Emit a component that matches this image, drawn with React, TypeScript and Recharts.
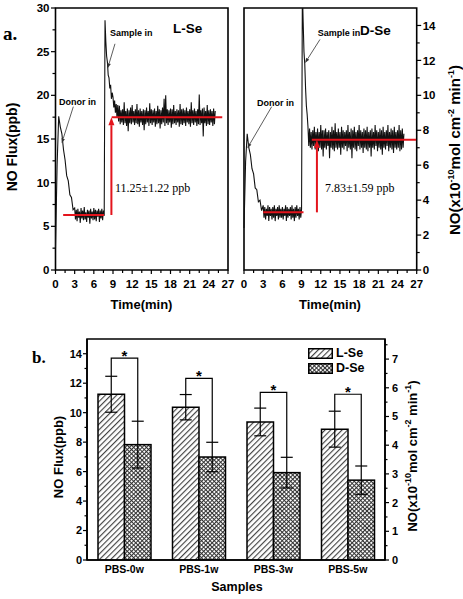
import React from 'react';
import {
  LineChart, Line, XAxis, YAxis, ReferenceLine, ReferenceArea,
  BarChart, Bar, ErrorBar, Legend,
} from 'recharts';

const SANS = '"Liberation Sans", Arial, sans-serif';
const SERIF = '"Liberation Serif", "Times New Roman", serif';
const RED = '#e3141c';

// ---------- Panel a: time traces ----------
const timeMin = [0,0.25,0.5,0.75,1,1.25,1.5,1.75,2,2.25,2.5,2.75,3,
  3.125,3.25,3.375,3.5,3.625,3.75,3.875,4,
  4.125,4.25,4.375,4.5,4.625,4.75,4.875,5,
  5.125,5.25,5.375,5.5,5.625,5.75,5.875,6,
  6.125,6.25,6.375,6.5,6.625,6.75,6.875,7,
  7.125,7.25,7.375,7.5,7.625,7.75,7.875,8,
  8.125,8.25,8.375,8.5,8.625,8.75,8.875,9,
  9.125,9.25,9.375,9.5,9.625,9.75,9.875,10,
  10.125,10.25,10.375,10.5,10.625,10.75,10.875,11,
  11.125,11.25,11.375,11.5,11.625,11.75,11.875,12,
  12.125,12.25,12.375,12.5,12.625,12.75,12.875,13,
  13.125,13.25,13.375,13.5,13.625,13.75,13.875,14,
  14.125,14.25,14.375,14.5,14.625,14.75,14.875,15,
  15.125,15.25,15.375,15.5,15.625,15.75,15.875,16,
  16.125,16.25,16.375,16.5,16.625,16.75,16.875,17,
  17.125,17.25,17.375,17.5,17.625,17.75,17.875,18,
  18.125,18.25,18.375,18.5,18.625,18.75,18.875,19,
  19.125,19.25,19.375,19.5,19.625,19.75,19.875,20,
  20.125,20.25,20.375,20.5,20.625,20.75,20.875,21,
  21.125,21.25,21.375,21.5,21.625,21.75,21.875,22,
  22.125,22.25,22.375,22.5,22.625,22.75,22.875,23,
  23.125,23.25,23.375,23.5,23.625,23.75,23.875,24,
  24.125,24.25,24.375,24.5,24.625,24.75,24.875,25];

const lseFlux = [2.5,12.0,17.6,16.4,15.6,13.8,12.6,10.8,10.2,8.6,8.3,6.9,7.1,
  5.8,6.9,5.6,7.0,6.0,6.7,5.4,7.1,
  5.9,6.8,5.7,7.2,5.8,6.6,5.5,6.9,
  6.0,6.8,5.3,7.0,5.9,6.7,5.7,7.1,
  5.8,6.9,5.6,6.8,6.1,7.0,5.5,6.8,
  5.9,7.0,5.7,6.8,6.2,28.6,26.2,24.5,
  23.8,22.3,22.0,20.8,21.2,19.6,20.3,19.8,
  18.6,19.4,18.0,19.0,17.4,18.9,17.0,18.8,
  16.7,18.3,16.9,18.4,16.6,19.2,16.8,18.2,
  16.5,18.5,15.9,18.3,16.8,18.6,16.7,18.9,
  16.9,18.2,16.6,18.4,16.8,19.0,16.7,18.3,
  16.4,18.5,16.9,18.2,16.6,18.4,16.0,18.3,
  16.7,18.6,16.9,18.2,16.5,19.1,16.8,18.4,
  16.6,18.3,16.9,18.5,16.4,18.2,16.7,18.8,
  16.8,18.4,16.2,18.3,16.7,18.6,16.9,19.6,
  16.5,20.0,16.8,18.4,16.6,18.3,16.9,18.5,
  16.3,18.4,16.7,18.9,16.8,18.2,16.6,18.4,
  16.9,18.3,16.4,19.0,16.7,18.4,16.6,18.5,
  16.8,18.3,16.5,18.6,16.9,18.2,16.7,18.4,
  16.4,19.2,16.8,18.3,16.6,18.5,16.9,18.2,
  16.5,18.4,16.7,20.1,16.6,18.3,16.8,18.5,
  15.3,18.6,16.8,18.2,16.5,18.9,16.7,18.3,
  16.6,18.4,16.9,18.2,16.5,18.5,16.7,18.2];

const dseFlux = [2.4,6.2,7.8,7.0,6.6,5.8,5.5,4.7,4.6,3.9,4.0,3.4,3.7,
  3.0,3.6,2.9,3.5,3.1,3.7,2.8,3.6,
  3.1,3.5,2.9,3.6,3.0,3.7,2.8,3.5,
  3.1,3.6,2.9,3.7,3.0,3.5,3.0,3.6,
  2.9,3.5,3.1,3.7,2.8,3.6,3.0,3.5,
  3.1,3.6,2.9,3.7,3.0,3.5,2.8,3.6,
  3.0,3.7,3.1,3.5,2.9,3.6,3.0,3.5,
  16.0,14.2,12.5,11.8,10.4,9.4,8.9,8.2,
  7.1,8.1,7.0,7.9,6.9,8.0,7.1,8.2,
  6.9,7.9,7.0,8.1,6.8,7.9,7.0,8.3,
  6.9,8.0,6.5,8.0,7.0,8.1,6.9,7.9,
  7.1,8.0,6.4,7.9,7.0,8.2,6.9,8.0,
  6.8,8.4,7.0,7.9,6.9,8.1,7.0,7.9,
  6.6,8.2,7.0,8.0,6.9,7.9,7.1,8.0,
  6.8,8.3,7.0,7.9,6.9,8.1,6.4,8.0,
  7.0,8.2,6.9,7.9,6.8,8.0,7.1,8.3,
  6.9,8.0,7.0,7.9,6.7,8.1,7.0,8.0,
  6.9,8.2,6.8,7.9,7.0,8.0,6.5,8.1,
  7.0,7.9,6.9,8.3,7.1,8.0,6.8,7.9,
  7.0,8.1,6.9,8.0,6.6,8.2,7.0,7.9,
  6.9,8.0,7.1,8.3,6.8,7.9,7.0,8.1,
  6.9,8.0,6.7,8.2,7.0,7.9,6.9,8.0,
  7.0,8.3,6.8,8.0,6.9,8.1,7.0,7.8];

const timeTicks = [0,1.5,3,4.5,6,7.5,9,10.5,12,13.5,15,16.5,18,19.5,21,22.5,24,25.5,27];
const timeMajor = [0,3,6,9,12,15,18,21,24,27];
const lseTicks = [0,2.5,5,7.5,10,12.5,15,17.5,20,22.5,25,27.5,30];
const lseMajor = [0,5,10,15,20,25,30];
const dseTicks = [0,1,2,3,4,5,6,7,8,9,10,11,12,13,14];
const dseMajor = [0,2,4,6,8,10,12,14];

const lseLevels = [{ y: 6.3, x1: 1.2, x2: 7.6 }, { y: 17.5, x1: 8.8, x2: 26.1 }];
const lseRise = { x: 8.75, y1: 6.3, y2: 17.5 };
const dseLevels = [{ y: 3.3, x1: 3.0, x2: 9.3 }, { y: 7.45, x1: 10.6, x2: 26.9 }];
const dseRise = { x: 11.4, y1: 3.3, y2: 7.45 };
const lsePointers = [
  { x1: 2.79, y1: 18.7, x2: 0.97, y2: 14.5 },
  { x1: 9.31, y1: 25.9, x2: 8.17, y2: 23.1 },
];
const dsePointers = [
  { x1: 4.33, y1: 9.35, x2: 0.52, y2: 6.97 },
  { x1: 11.88, y1: 13.2, x2: 9.54, y2: 11.85 },
];

const lseData = timeMin.map((t, i) => ({ t, v: lseFlux[i] }));
const dseData = timeMin.map((t, i) => ({ t, v: dseFlux[i] }));

// ---------- Panel b: bars ----------
const samples = ['PBS-0w', 'PBS-1w', 'PBS-3w', 'PBS-5w'];
const lseMean = [11.25, 10.37, 9.37, 8.88];
const lseErr = [1.22, 0.86, 0.94, 1.22];
const dseMean = [7.83, 6.99, 5.93, 5.42];
const dseErr = [1.59, 1.0, 1.04, 0.96];
const bracketLevel = [13.7, 12.33, 11.38, 11.25];
const barTicks = [0,1,2,3,4,5,6,7,8,9,10,11,12,13,14];
const barMajor = [0,2,4,6,8,10,12,14];
const bar2Ticks = [0,0.5,1,1.5,2,2.5,3,3.5,4,4.5,5,5.5,6,6.5,7,7.5];
const bar2Major = [0,1,2,3,4,5,6,7];
const legendItems = [
  { name: 'L-Se', pat: 'hatchL' },
  { name: 'D-Se', pat: 'crossD' },
];

const barData = samples.map((cat, i) => ({
  cat, lSe: lseMean[i], lErr: lseErr[i], dSe: dseMean[i], dErr: dseErr[i],
}));

// ---------- helpers ----------
const makeTick = (
  orient: 'bottom' | 'left' | 'right',
  majors: number[],
  o: { maj: number; min: number; gap: number; fs: number }
) => (props: any) => {
  const { x, y, payload } = props;
  const v = payload.value;
  const isMaj = majors.indexOf(v) >= 0;
  const len = isMaj ? o.maj : o.min;
  if (orient === 'bottom') {
    return (
      <g>
        <line x1={x} y1={y} x2={x} y2={y + len} stroke="#000" strokeWidth={1.2} />
        {isMaj && (
          <text x={x} y={y + o.gap} textAnchor="middle" fontSize={o.fs} fontWeight="bold" fontFamily={SANS} fill="#000">{v}</text>
        )}
      </g>
    );
  }
  const s = orient === 'left' ? -1 : 1;
  return (
    <g>
      <line x1={x} y1={y} x2={x + s * len} y2={y} stroke="#000" strokeWidth={1.2} />
      {isMaj && (
        <text x={x + s * o.gap} y={y + o.fs * 0.36} textAnchor={s < 0 ? 'end' : 'start'} fontSize={o.fs} fontWeight="bold" fontFamily={SANS} fill="#000">{v}</text>
      )}
    </g>
  );
};

const arrowShape = (color: string, w: number, hl: number, hw: number) => (p: any) => {
  const { x1, y1, x2, y2 } = p;
  const dx = x2 - x1, dy = y2 - y1;
  const L = Math.hypot(dx, dy) || 1;
  const ux = dx / L, uy = dy / L;
  const bx = x2 - ux * hl, by = y2 - uy * hl;
  const px = -uy * hw / 2, py = ux * hw / 2;
  return (
    <g>
      <line x1={x1} y1={y1} x2={bx} y2={by} stroke={color} strokeWidth={w} />
      <polygon points={`${x2},${y2} ${bx + px},${by + py} ${bx - px},${by - py}`} fill={color} />
    </g>
  );
};

const redArrow = arrowShape(RED, 2, 8, 6);
const ptrArrow = arrowShape('#333', 0.8, 5, 3.5);

const timeTick = makeTick('bottom', timeMajor, { maj: 4, min: 3, gap: 18, fs: 11.5 });
const lseTick = makeTick('left', lseMajor, { maj: 4.5, min: 3, gap: 6, fs: 11.5 });
const dseTick = makeTick('right', dseMajor, { maj: 4.5, min: 3, gap: 6, fs: 11.5 });
const barTick = makeTick('left', barMajor, { maj: 4, min: 2.5, gap: 5, fs: 11 });
const bar2Tick = makeTick('right', bar2Major, { maj: 4, min: 2.5, gap: 7, fs: 11 });

const catTick = (props: any) => {
  const { x, y, payload } = props;
  return (
    <text x={x} y={y + 13} textAnchor="middle" fontSize={10.5} fontWeight="bold" fontFamily={SANS} fill="#000">{payload.value}</text>
  );
};

const dseBarShape = (p: any) => {
  const { x, y, width, height } = p;
  let idx = typeof p.index === 'number' ? p.index : samples.indexOf(p.payload && p.payload.cat);
  if (idx < 0) idx = 0;
  const ppu = height / dseMean[idx];
  const base = y + height;
  const yB = base - bracketLevel[idx] * ppu;
  const yL = base - (lseMean[idx] + lseErr[idx]) * ppu;
  const yD = base - (dseMean[idx] + dseErr[idx]) * ppu;
  const cL = x - width / 2, cD = x + width / 2;
  return (
    <g>
      <rect x={x} y={y} width={width} height={height} fill="url(#crossD)" stroke="#000" strokeWidth={1.5} />
      <path d={`M${cL},${yL} V${yB} H${cD} V${yD}`} fill="none" stroke="#000" strokeWidth={1.2} />
      <text x={x} y={yB + 3} textAnchor="middle" fontSize={15} fontWeight="bold" fontFamily={SANS} fill="#000">*</text>
    </g>
  );
};

const renderLegend = () => (
  <div style={{ fontFamily: SANS, fontWeight: 'bold', fontSize: 12.5, lineHeight: '15px' }}>
    {legendItems.map((it) => (
      <div key={it.name} style={{ display: 'flex', alignItems: 'center', height: 15 }}>
        <svg width={25} height={11} style={{ display: 'block' }}>
          <rect x={0.75} y={0.75} width={23.5} height={9.5} fill={`url(#${it.pat})`} stroke="#000" strokeWidth={1.5} />
        </svg>
        <span style={{ marginLeft: 3 }}>{it.name}</span>
      </div>
    ))}
  </div>
);

const sup = (s: string) => [
  <tspan key={s + 'a'} dy={-6} fontSize={9}>{s}</tspan>,
];

export default function App() {
  return (
    <div style={{ position: 'absolute', left: 0, top: 0, width: 463, height: 599, background: '#fff' }}>
      {/* Left trace: L-Se */}
      <div style={{ position: 'absolute', left: 0, top: 0 }}>
        <LineChart width={240} height={320} data={lseData} margin={{ top: 8, right: 12, bottom: 20, left: 0 }}>
          <XAxis dataKey="t" type="number" domain={[0, 27]} ticks={timeTicks} interval={0} tickLine={false} tickSize={0} tickMargin={0} tick={timeTick} axisLine={false} height={30} />
          <YAxis type="number" domain={[0, 30]} ticks={lseTicks} interval={0} tickLine={false} tickSize={0} tickMargin={0} tick={lseTick} axisLine={false} width={55.5} allowDataOverflow />
          <ReferenceArea x1={0} x2={27} y1={0} y2={30} fill="none" stroke="#000" strokeWidth={1.6} ifOverflow="visible" />
          <Line type="linear" dataKey="v" stroke="#111" strokeWidth={1.1} dot={false} isAnimationActive={false} />
          {lseLevels.map((l, i) => (
            <ReferenceLine key={'l' + i} segment={[{ x: l.x1, y: l.y }, { x: l.x2, y: l.y }]} stroke={RED} strokeWidth={2} />
          ))}
          <ReferenceLine segment={[{ x: lseRise.x, y: lseRise.y1 }, { x: lseRise.x, y: lseRise.y2 }]} shape={redArrow} />
          {lsePointers.map((p, i) => (
            <ReferenceLine key={'p' + i} segment={[{ x: p.x1, y: p.y1 }, { x: p.x2, y: p.y2 }]} shape={ptrArrow} />
          ))}
        </LineChart>
      </div>

      {/* Right trace: D-Se */}
      <div style={{ position: 'absolute', left: 220, top: 0 }}>
        <LineChart width={243} height={320} data={dseData} margin={{ top: 8, right: 0, bottom: 20, left: 24 }}>
          <XAxis dataKey="t" type="number" domain={[0, 27]} ticks={timeTicks} interval={0} tickLine={false} tickSize={0} tickMargin={0} tick={timeTick} axisLine={false} height={30} />
          <YAxis orientation="right" type="number" domain={[0, 15]} ticks={dseTicks} interval={0} tickLine={false} tickSize={0} tickMargin={0} tick={dseTick} axisLine={false} width={46.3} allowDataOverflow />
          <ReferenceArea x1={0} x2={27} y1={0} y2={15} fill="none" stroke="#000" strokeWidth={1.6} ifOverflow="visible" />
          <Line type="linear" dataKey="v" stroke="#111" strokeWidth={1.1} dot={false} isAnimationActive={false} />
          {dseLevels.map((l, i) => (
            <ReferenceLine key={'l' + i} segment={[{ x: l.x1, y: l.y }, { x: l.x2, y: l.y }]} stroke={RED} strokeWidth={2} />
          ))}
          <ReferenceLine segment={[{ x: dseRise.x, y: dseRise.y1 }, { x: dseRise.x, y: dseRise.y2 }]} shape={redArrow} />
          {dsePointers.map((p, i) => (
            <ReferenceLine key={'p' + i} segment={[{ x: p.x1, y: p.y1 }, { x: p.x2, y: p.y2 }]} shape={ptrArrow} />
          ))}
        </LineChart>
      </div>

      {/* Bar chart */}
      <div style={{ position: 'absolute', left: 0, top: 330 }}>
        <BarChart width={463} height={269} data={barData} margin={{ top: 9, right: 0, bottom: 0, left: 0 }} barGap={0} barSize={26.5}>
          <defs>
            <pattern id="hatchL" width="4" height="4" patternUnits="userSpaceOnUse" patternTransform="rotate(45)">
              <rect width="4" height="4" fill="#fff" />
              <line x1="0.5" y1="0" x2="0.5" y2="4" stroke="#444" strokeWidth="1.3" />
            </pattern>
            <pattern id="crossD" width="3" height="3" patternUnits="userSpaceOnUse" patternTransform="rotate(45)">
              <rect width="3" height="3" fill="#fff" />
              <path d="M0.5 0 L0.5 3 M0 0.5 L3 0.5" stroke="#333" strokeWidth="1.1" />
            </pattern>
          </defs>
          <XAxis dataKey="cat" tickLine={false} tickSize={0} tickMargin={0} tick={catTick} axisLine={{ stroke: '#000', strokeWidth: 1.6 }} height={39} interval={0} />
          <YAxis yAxisId="left" type="number" domain={[0, 15]} ticks={barTicks} interval={0} tickLine={false} tickSize={0} tickMargin={0} tick={barTick} axisLine={{ stroke: '#000', strokeWidth: 1.6 }} width={87} allowDataOverflow />
          <YAxis yAxisId="right" orientation="right" type="number" domain={[0, 7.7]} ticks={bar2Ticks} interval={0} tickLine={false} tickSize={0} tickMargin={0} tick={bar2Tick} axisLine={{ stroke: '#000', strokeWidth: 1.6 }} width={78} allowDataOverflow />
          <ReferenceArea yAxisId="left" y1={0} y2={15} fill="none" stroke="#000" strokeWidth={1.6} ifOverflow="visible" />
          <Legend content={renderLegend} layout="vertical" align="center" verticalAlign="middle" wrapperStyle={{ left: 308, top: 16, width: 'auto' }} />
          <Bar yAxisId="left" dataKey="lSe" fill="url(#hatchL)" stroke="#000" strokeWidth={1.5} isAnimationActive={false}>
            <ErrorBar dataKey="lErr" width={6} stroke="#000" strokeWidth={1.2} />
          </Bar>
          <Bar yAxisId="left" dataKey="dSe" fill="url(#crossD)" stroke="#000" strokeWidth={1.5} shape={dseBarShape} isAnimationActive={false}>
            <ErrorBar dataKey="dErr" width={6} stroke="#000" strokeWidth={1.2} />
          </Bar>
        </BarChart>
      </div>

      {/* Text overlay */}
      <svg width={463} height={599} style={{ position: 'absolute', left: 0, top: 0, pointerEvents: 'none' }}>
        <text x={3} y={40} fontFamily={SERIF} fontWeight="bold" fontSize={19}>a.</text>
        <text x={173} y={33} fontFamily={SANS} fontWeight="bold" fontSize={13.5}>L-Se</text>
        <text x={110} y={35.5} fontFamily={SANS} fontWeight="bold" fontSize={9}>Sample in</text>
        <text x={59} y={105} fontFamily={SANS} fontWeight="bold" fontSize={9}>Donor in</text>
        <text x={115} y={192} fontFamily={SERIF} fontSize={12}>11.25±1.22 ppb</text>
        <text x={360} y={34.5} fontFamily={SANS} fontWeight="bold" fontSize={13.5}>D-Se</text>
        <text x={317.7} y={35.5} fontFamily={SANS} fontWeight="bold" fontSize={9}>Sample in</text>
        <text x={257} y={105.5} fontFamily={SANS} fontWeight="bold" fontSize={9}>Donor in</text>
        <text x={325} y={192} fontFamily={SERIF} fontSize={12}>7.83±1.59 ppb</text>
        <text x={141.5} y={309} textAnchor="middle" fontFamily={SANS} fontWeight="bold" fontSize={13}>Time(min)</text>
        <text x={330} y={309} textAnchor="middle" fontFamily={SANS} fontWeight="bold" fontSize={13}>Time(min)</text>
        <text transform="translate(16.5,147) rotate(-90)" textAnchor="middle" fontFamily={SANS} fontWeight="bold" fontSize={14}>NO Flux(ppb)</text>
        <text transform="translate(460,150) rotate(-90)" textAnchor="middle" fontFamily={SANS} fontWeight="bold" fontSize={15}>
          NO(x10{sup('-10')}<tspan dy={6}>mol cm</tspan>{sup('-2')}<tspan dy={6}> min</tspan>{sup('-1')}<tspan dy={6}>)</tspan>
        </text>
        <text x={32} y={363} fontFamily={SERIF} fontWeight="bold" fontSize={17}>b.</text>
        <text x={237} y={590.5} textAnchor="middle" fontFamily={SANS} fontWeight="bold" fontSize={12.5}>Samples</text>
        <text transform="translate(63,457) rotate(-90)" textAnchor="middle" fontFamily={SANS} fontWeight="bold" fontSize={13}>NO Flux(ppb)</text>
        <text transform="translate(417,456) rotate(-90)" textAnchor="middle" fontFamily={SANS} fontWeight="bold" fontSize={13}>
          NO(x10{sup('-10')}<tspan dy={6}>mol cm</tspan>{sup('-2')}<tspan dy={6}> min</tspan>{sup('-1')}<tspan dy={6}>)</tspan>
        </text>
      </svg>
    </div>
  );
}
